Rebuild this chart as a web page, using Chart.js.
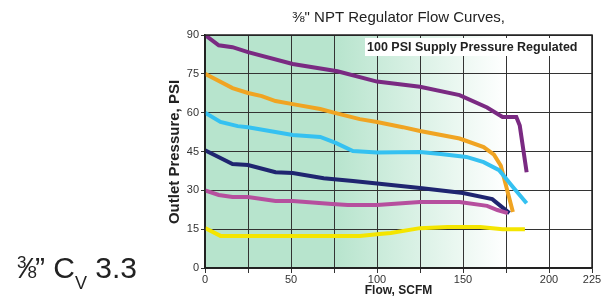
<!DOCTYPE html>
<html>
<head>
<meta charset="utf-8">
<script src="https://cdn.jsdelivr.net/npm/chart.js@4/dist/chart.umd.min.js"></script>
<style>
  html, body { margin: 0; padding: 0; background: #fff; }
  #wrap { position: relative; width: 613px; height: 299px; }
  #cv-label {
    position: absolute; left: 17px; top: 250px;
    font-family: "Liberation Sans", Arial, sans-serif; font-size: 30px; color: #222;
    white-space: nowrap; line-height: 36px;
  }
  #cv-label sup, #cv-label sub, #cv-label .v { line-height: 0; }
  #cv-label .frac sup { font-size: 17px; vertical-align: 10px; }
  #cv-label .frac sub { font-size: 17px; vertical-align: 0px; }
  #cv-label .frac { letter-spacing: -2px; }
  #cv-label .v { font-size: 18px; vertical-align: -11px; }
</style>
</head>
<body>
<div id="wrap">
  <canvas id="chart" width="613" height="299"></canvas>
  <div id="cv-label"><span class="frac"><sup>3</sup>⁄<sub>8</sub></span>” C<span class="v">V</span> 3.3</div>
</div>
<script>
// Data (flow SCFM, outlet PSI)
const xTicks = [0, 25, 50, 75, 100, 125, 150, 175, 200, 225];
const xLabelled = [0, 50, 100, 150, 200, 225];
const yTicks = [0, 15, 30, 45, 60, 75, 90];

const purpleFlow = [0, 8, 16, 25, 51, 77, 100, 125, 148, 164, 173, 181, 183, 187];
const purplePsi  = [90, 86, 85.3, 83.4, 78.8, 76, 72, 70, 66.8, 62, 58.3, 58.3, 55, 37];

const orangeFlow = [0, 16, 25, 33, 41, 51, 67, 76, 90, 100, 115, 125, 148, 162, 168, 172, 179];
const orangePsi  = [75, 69.5, 67.6, 66.4, 64.5, 63.3, 61.4, 59.8, 57.5, 56.4, 54.4, 52.9, 50, 46.7, 43.8, 39.5, 21.6];

const blueFlow = [0, 9, 19, 25, 51, 67, 76, 86, 100, 125, 137, 152, 162, 171, 179, 187];
const bluePsi  = [60, 56.4, 54.8, 54.4, 51.4, 50.6, 48.3, 45.2, 44.6, 44.8, 44, 42.9, 40.9, 37.8, 31.3, 25];

const navyFlow = [0, 9, 16, 25, 41, 51, 69, 86, 100, 125, 150, 167, 177];
const navyPsi  = [45.5, 42.5, 40.2, 39.8, 37, 36.7, 34.7, 33.6, 32.6, 30.9, 29, 26.6, 21.2];

const magentaFlow = [0, 8, 16, 25, 41, 51, 74, 83, 100, 125, 148, 164, 170, 176];
const magentaPsi  = [30, 28.2, 27.4, 27.4, 25.9, 25.9, 24.7, 24.3, 24.3, 25.5, 25.5, 24, 22.4, 21.2];

const yellowFlow = [0, 9, 90, 100, 108, 125, 141, 160, 173, 186];
const yellowPsi  = [15.4, 12.4, 12.4, 13, 13.5, 15.4, 15.8, 15.8, 15, 15];

function pts(xs, ys) { return xs.map((x, i) => ({ x: x, y: ys[i] })); }

function series(xs, ys, color) {
  return {
    data: pts(xs, ys),
    borderColor: color,
    borderWidth: 4,
    pointRadius: 0,
    fill: false,
    tension: 0
  };
}

const FONT = '"Liberation Sans", Arial, sans-serif';

// green-to-white background behind the plot
const bgPlugin = {
  id: 'bg',
  beforeDraw(chart) {
    const { ctx, chartArea: a, scales } = chart;
    const g = ctx.createLinearGradient(scales.x.getPixelForValue(75), 0, scales.x.getPixelForValue(175), 0);
    g.addColorStop(0, 'rgb(183,228,205)');
    g.addColorStop(1, '#ffffff');
    ctx.save();
    ctx.fillStyle = g;
    ctx.fillRect(a.left, a.top, a.right - a.left, a.bottom - a.top);
    ctx.restore();
  }
};

// frame, titles and the note box
const textPlugin = {
  id: 'texts',
  afterDraw(chart) {
    const { ctx, chartArea: a } = chart;
    ctx.save();
    ctx.strokeStyle = '#222';
    ctx.lineWidth = 1.5;
    ctx.strokeRect(a.left, a.top, a.right - a.left, a.bottom - a.top);

    ctx.fillStyle = '#222';
    ctx.textAlign = 'center';
    ctx.textBaseline = 'middle';
    ctx.font = '15px ' + FONT;
    ctx.fillText('⅜" NPT Regulator Flow Curves,', (a.left + a.right) / 2, 18);

    ctx.font = 'bold 12px ' + FONT;
    ctx.fillText('Flow, SCFM', (a.left + a.right) / 2, 291);

    ctx.save();
    ctx.translate(175, 152);
    ctx.rotate(-Math.PI / 2);
    ctx.font = 'bold 15px ' + FONT;
    ctx.fillText('Outlet Pressure, PSI', 0, 0);
    ctx.restore();

    const note = '100 PSI Supply Pressure Regulated';
    ctx.font = 'bold 12.5px ' + FONT;
    const w = ctx.measureText(note).width;
    ctx.fillStyle = '#fff';
    ctx.fillRect(365, 38, w + 5, 18);
    ctx.fillStyle = '#222';
    ctx.textAlign = 'left';
    ctx.fillText(note, 367, 47.5);
    ctx.restore();
  }
};

new Chart(document.getElementById('chart'), {
  type: 'line',
  data: {
    datasets: [
      series(yellowFlow, yellowPsi, '#f4e500'),
      series(magentaFlow, magentaPsi, '#b64f9e'),
      series(navyFlow, navyPsi, '#1f2570'),
      series(blueFlow, bluePsi, '#35c1f1'),
      series(orangeFlow, orangePsi, '#f0a422'),
      series(purpleFlow, purplePsi, '#7a2a82')
    ]
  },
  options: {
    responsive: false,
    animation: false,
    layout: { padding: { left: 165, right: 21, top: 35, bottom: 0 } },
    plugins: { legend: { display: false }, tooltip: { enabled: false } },
    scales: {
      x: {
        type: 'linear',
        min: 0,
        max: 225,
        afterBuildTicks: s => { s.ticks = xTicks.map(v => ({ value: v })); },
        afterFit: s => { s.height = 31; },
        grid: { color: '#333', lineWidth: 1, tickLength: 5, drawOnChartArea: true },
        border: { color: '#222', width: 1.5 },
        ticks: {
          color: '#333',
          font: { family: FONT, size: 11 },
          padding: 0,
          maxRotation: 0,
          autoSkip: false,
          callback: v => xLabelled.includes(v) ? String(v) : ''
        }
      },
      y: {
        min: 0,
        max: 90,
        afterBuildTicks: s => { s.ticks = yTicks.map(v => ({ value: v })); },
        afterFit: s => { s.width = 40; },
        grid: { color: '#333', lineWidth: 1, tickLength: 4 },
        border: { color: '#222', width: 1.5 },
        ticks: {
          color: '#333',
          font: { family: FONT, size: 11 },
          padding: 2
        }
      }
    }
  },
  plugins: [bgPlugin, textPlugin]
});
</script>
</body>
</html>
